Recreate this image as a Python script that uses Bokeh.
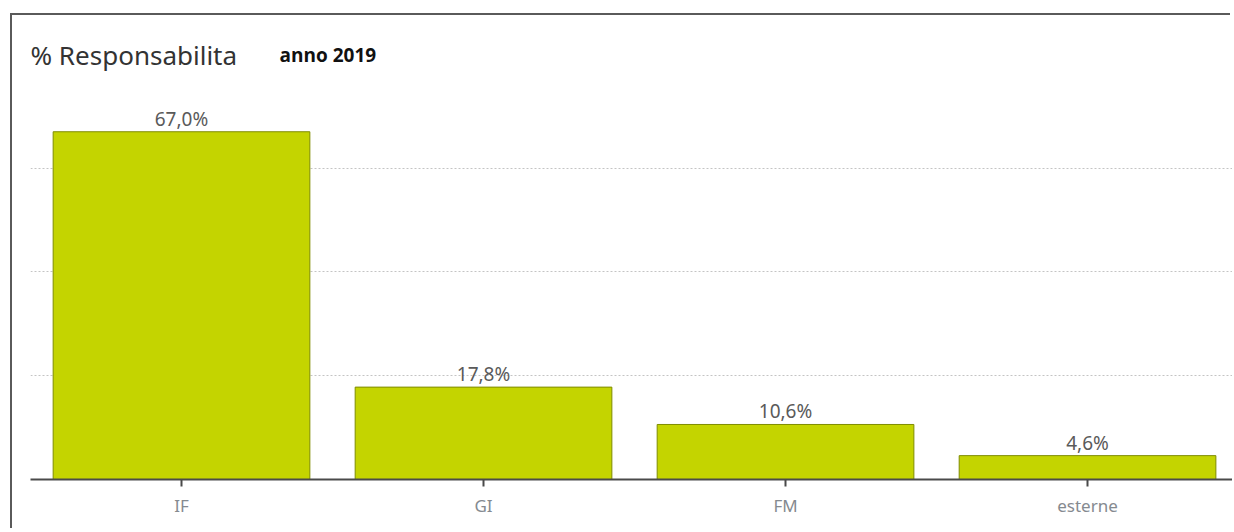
from bokeh.plotting import figure
from bokeh.models import ColumnDataSource, FixedTicker, Range1d, Label, LabelSet
from bokeh.core.properties import value
from bokeh.embed import file_html
from bokeh.resources import INLINE

categories = ["IF", "GI", "FM", "esterne"]
percentages = [67.0, 17.8, 10.6, 4.6]
grid_ticks = [20, 40, 60]
title_text = "% Responsabilita"
subtitle_text = "anno 2019"

positions = list(range(len(categories)))
labels = [f"{v:.1f}".replace(".", ",") + "%" for v in percentages]
src = ColumnDataSource(dict(x=positions, top=percentages, label=labels))

p = figure(width=1220, height=515, output_backend="svg", toolbar_location=None,
           x_range=Range1d(-0.5, 3.48), y_range=Range1d(0, 89.4),
           min_border_left=18, min_border_right=0, min_border_top=0, min_border_bottom=51)
p.styles = {"box-shadow": "-2px -2px 0px 0px #5a5a5a",
            "margin-left": "12px", "margin-top": "15px"}
p.outline_line_color = None
p.background_fill_color = "white"
p.border_fill_color = "white"

p.vbar(x="x", top="top", bottom=0, width=0.85, source=src,
       fill_color="#c4d400", line_color="#7f8c00", line_width=1)

p.add_layout(LabelSet(x="x", y="top", text="label", source=src, text_align="center",
                      text_baseline="alphabetic", y_offset=6, text_font=value("Noto Sans"),
                      text_font_size=value("19px"), text_color="#5a5a5a"))

p.add_layout(Label(x=-0.5, y=81.8, text=title_text, text_baseline="alphabetic",
                   text_font="Noto Sans", text_font_size="26px", text_color="#333333"))
p.add_layout(Label(x=0.3245, y=81.8, text=subtitle_text, text_baseline="alphabetic",
                   text_font="Open Sans", text_font_style="bold",
                   text_font_size="19px", text_color="#111111"))

p.yaxis.visible = False
p.xgrid.visible = False
p.ygrid.ticker = FixedTicker(ticks=grid_ticks)
p.ygrid.grid_line_color = "#c4c4c4"
p.ygrid.grid_line_dash = "2 2"
p.ygrid.grid_line_width = 1

ax = p.xaxis[0]
ax.ticker = FixedTicker(ticks=positions)
ax.major_label_overrides = {i: c for i, c in zip(positions, categories)}
ax.axis_line_color = "#4a4a4a"
ax.axis_line_width = 2
ax.major_tick_line_color = "#4a4a4a"
ax.major_tick_line_width = 2
ax.major_tick_in = 0
ax.major_tick_out = 7
ax.minor_tick_line_color = None
ax.major_label_text_font = "Noto Sans"
ax.major_label_text_font_size = "17px"
ax.major_label_text_color = "#858a90"
ax.major_label_standoff = 7

open("out.html", "w").write(file_html(p, INLINE))
